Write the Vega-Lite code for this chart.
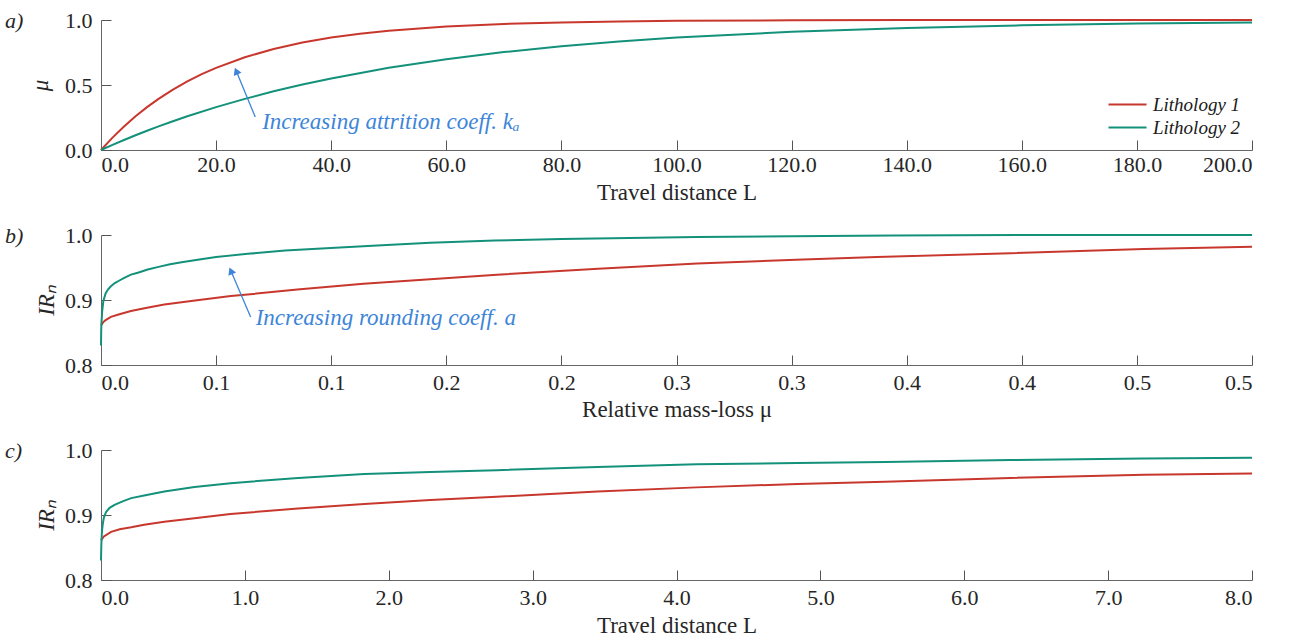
{
  "$schema": "https://vega.github.io/schema/vega-lite/v6.json",
  "background": "white",
  "padding": {"left": 5, "top": 9, "right": 5, "bottom": 2},
  "bounds": "flush",
  "spacing": 85,
  "config": {
    "view": {"stroke": null},
    "axis": {
      "grid": false,
      "domainColor": "#666666",
      "tickColor": "#555555",
      "tickSize": -10,
      "labelFont": "Liberation Serif, serif",
      "labelFontSize": 22,
      "labelColor": "#262626",
      "labelPadding": 14,
      "titleFont": "Liberation Serif, serif",
      "titleFontSize": 23,
      "titleFontWeight": "normal",
      "titleColor": "#262626",
      "titlePadding": 6
    },
    "axisY": {"labelPadding": 19},
    "title": {"font": "Liberation Serif, serif", "fontSize": 22, "fontStyle": "italic", "fontWeight": "normal", "color": "#262626", "anchor": "start", "frame": "group", "dx": -96, "offset": -24},
    "line": {"strokeWidth": 2}
  },
  "resolve": {"legend": {"color": "independent"}},
  "datasets": {
    "a": [
      {"x": 0, "y": 0, "s": "Lithology 1"},
      {"x": 2, "y": 0.0952, "s": "Lithology 1"},
      {"x": 4, "y": 0.1813, "s": "Lithology 1"},
      {"x": 6, "y": 0.2592, "s": "Lithology 1"},
      {"x": 8, "y": 0.3297, "s": "Lithology 1"},
      {"x": 10, "y": 0.3935, "s": "Lithology 1"},
      {"x": 12.5, "y": 0.4647, "s": "Lithology 1"},
      {"x": 15, "y": 0.5276, "s": "Lithology 1"},
      {"x": 17.5, "y": 0.5831, "s": "Lithology 1"},
      {"x": 20, "y": 0.6321, "s": "Lithology 1"},
      {"x": 25, "y": 0.7135, "s": "Lithology 1"},
      {"x": 30, "y": 0.7769, "s": "Lithology 1"},
      {"x": 35, "y": 0.8262, "s": "Lithology 1"},
      {"x": 40, "y": 0.8647, "s": "Lithology 1"},
      {"x": 45, "y": 0.8946, "s": "Lithology 1"},
      {"x": 50, "y": 0.9179, "s": "Lithology 1"},
      {"x": 60, "y": 0.9502, "s": "Lithology 1"},
      {"x": 70, "y": 0.9698, "s": "Lithology 1"},
      {"x": 80, "y": 0.9817, "s": "Lithology 1"},
      {"x": 90, "y": 0.9889, "s": "Lithology 1"},
      {"x": 100, "y": 0.9933, "s": "Lithology 1"},
      {"x": 120, "y": 0.9975, "s": "Lithology 1"},
      {"x": 140, "y": 0.9991, "s": "Lithology 1"},
      {"x": 160, "y": 0.9997, "s": "Lithology 1"},
      {"x": 180, "y": 0.9999, "s": "Lithology 1"},
      {"x": 200, "y": 1.0, "s": "Lithology 1"},
      {"x": 0, "y": 0, "s": "Lithology 2"},
      {"x": 2, "y": 0.0392, "s": "Lithology 2"},
      {"x": 4, "y": 0.0769, "s": "Lithology 2"},
      {"x": 6, "y": 0.1131, "s": "Lithology 2"},
      {"x": 8, "y": 0.1479, "s": "Lithology 2"},
      {"x": 10, "y": 0.1813, "s": "Lithology 2"},
      {"x": 12.5, "y": 0.2212, "s": "Lithology 2"},
      {"x": 15, "y": 0.2592, "s": "Lithology 2"},
      {"x": 20, "y": 0.3297, "s": "Lithology 2"},
      {"x": 25, "y": 0.3935, "s": "Lithology 2"},
      {"x": 30, "y": 0.4512, "s": "Lithology 2"},
      {"x": 35, "y": 0.5034, "s": "Lithology 2"},
      {"x": 40, "y": 0.5507, "s": "Lithology 2"},
      {"x": 50, "y": 0.6321, "s": "Lithology 2"},
      {"x": 60, "y": 0.6988, "s": "Lithology 2"},
      {"x": 70, "y": 0.7534, "s": "Lithology 2"},
      {"x": 80, "y": 0.7981, "s": "Lithology 2"},
      {"x": 90, "y": 0.8347, "s": "Lithology 2"},
      {"x": 100, "y": 0.8647, "s": "Lithology 2"},
      {"x": 120, "y": 0.9093, "s": "Lithology 2"},
      {"x": 140, "y": 0.9392, "s": "Lithology 2"},
      {"x": 160, "y": 0.9592, "s": "Lithology 2"},
      {"x": 180, "y": 0.9727, "s": "Lithology 2"},
      {"x": 200, "y": 0.9817, "s": "Lithology 2"}
    ],
    "b": [
      {"x": 0, "y": 0.861, "s": "Lithology 1"},
      {"x": 0.001, "y": 0.866, "s": "Lithology 1"},
      {"x": 0.002, "y": 0.869, "s": "Lithology 1"},
      {"x": 0.0043, "y": 0.874, "s": "Lithology 1"},
      {"x": 0.008, "y": 0.878, "s": "Lithology 1"},
      {"x": 0.013, "y": 0.883, "s": "Lithology 1"},
      {"x": 0.02, "y": 0.888, "s": "Lithology 1"},
      {"x": 0.0275, "y": 0.893, "s": "Lithology 1"},
      {"x": 0.04, "y": 0.899, "s": "Lithology 1"},
      {"x": 0.0564, "y": 0.906, "s": "Lithology 1"},
      {"x": 0.0853, "y": 0.916, "s": "Lithology 1"},
      {"x": 0.114, "y": 0.925, "s": "Lithology 1"},
      {"x": 0.143, "y": 0.932, "s": "Lithology 1"},
      {"x": 0.172, "y": 0.939, "s": "Lithology 1"},
      {"x": 0.216, "y": 0.948, "s": "Lithology 1"},
      {"x": 0.259, "y": 0.956, "s": "Lithology 1"},
      {"x": 0.302, "y": 0.962, "s": "Lithology 1"},
      {"x": 0.337, "y": 0.966, "s": "Lithology 1"},
      {"x": 0.395, "y": 0.972, "s": "Lithology 1"},
      {"x": 0.453, "y": 0.9786, "s": "Lithology 1"},
      {"x": 0.5, "y": 0.982, "s": "Lithology 1"},
      {"x": 0, "y": 0.83, "s": "Lithology 2"},
      {"x": 0.0001, "y": 0.855, "s": "Lithology 2"},
      {"x": 0.0002, "y": 0.864, "s": "Lithology 2"},
      {"x": 0.0005, "y": 0.882, "s": "Lithology 2"},
      {"x": 0.001, "y": 0.898, "s": "Lithology 2"},
      {"x": 0.002, "y": 0.91, "s": "Lithology 2"},
      {"x": 0.003, "y": 0.916, "s": "Lithology 2"},
      {"x": 0.0043, "y": 0.921, "s": "Lithology 2"},
      {"x": 0.006, "y": 0.926, "s": "Lithology 2"},
      {"x": 0.008, "y": 0.93, "s": "Lithology 2"},
      {"x": 0.0101, "y": 0.934, "s": "Lithology 2"},
      {"x": 0.013, "y": 0.939, "s": "Lithology 2"},
      {"x": 0.016, "y": 0.942, "s": "Lithology 2"},
      {"x": 0.0203, "y": 0.947, "s": "Lithology 2"},
      {"x": 0.025, "y": 0.951, "s": "Lithology 2"},
      {"x": 0.03, "y": 0.955, "s": "Lithology 2"},
      {"x": 0.035, "y": 0.958, "s": "Lithology 2"},
      {"x": 0.042, "y": 0.962, "s": "Lithology 2"},
      {"x": 0.05, "y": 0.966, "s": "Lithology 2"},
      {"x": 0.0637, "y": 0.971, "s": "Lithology 2"},
      {"x": 0.08, "y": 0.976, "s": "Lithology 2"},
      {"x": 0.0998, "y": 0.98, "s": "Lithology 2"},
      {"x": 0.12, "y": 0.984, "s": "Lithology 2"},
      {"x": 0.143, "y": 0.988, "s": "Lithology 2"},
      {"x": 0.171, "y": 0.9915, "s": "Lithology 2"},
      {"x": 0.2, "y": 0.994, "s": "Lithology 2"},
      {"x": 0.259, "y": 0.997, "s": "Lithology 2"},
      {"x": 0.3, "y": 0.998, "s": "Lithology 2"},
      {"x": 0.344, "y": 0.9994, "s": "Lithology 2"},
      {"x": 0.42, "y": 1.0, "s": "Lithology 2"},
      {"x": 0.5, "y": 1.0, "s": "Lithology 2"}
    ],
    "c": [
      {"x": 0, "y": 0.861, "s": "Lithology 1"},
      {"x": 0.02, "y": 0.867, "s": "Lithology 1"},
      {"x": 0.07, "y": 0.874, "s": "Lithology 1"},
      {"x": 0.13, "y": 0.878, "s": "Lithology 1"},
      {"x": 0.21, "y": 0.881, "s": "Lithology 1"},
      {"x": 0.3, "y": 0.885, "s": "Lithology 1"},
      {"x": 0.44, "y": 0.8896, "s": "Lithology 1"},
      {"x": 0.65, "y": 0.895, "s": "Lithology 1"},
      {"x": 0.9, "y": 0.9016, "s": "Lithology 1"},
      {"x": 1.37, "y": 0.91, "s": "Lithology 1"},
      {"x": 1.83, "y": 0.917, "s": "Lithology 1"},
      {"x": 2.29, "y": 0.923, "s": "Lithology 1"},
      {"x": 2.75, "y": 0.928, "s": "Lithology 1"},
      {"x": 3.45, "y": 0.936, "s": "Lithology 1"},
      {"x": 4.14, "y": 0.9425, "s": "Lithology 1"},
      {"x": 4.84, "y": 0.9477, "s": "Lithology 1"},
      {"x": 5.45, "y": 0.951, "s": "Lithology 1"},
      {"x": 6.32, "y": 0.957, "s": "Lithology 1"},
      {"x": 7.25, "y": 0.962, "s": "Lithology 1"},
      {"x": 8.0, "y": 0.964, "s": "Lithology 1"},
      {"x": 0, "y": 0.83, "s": "Lithology 2"},
      {"x": 0.002, "y": 0.852, "s": "Lithology 2"},
      {"x": 0.005, "y": 0.868, "s": "Lithology 2"},
      {"x": 0.008, "y": 0.878, "s": "Lithology 2"},
      {"x": 0.013, "y": 0.887, "s": "Lithology 2"},
      {"x": 0.02, "y": 0.896, "s": "Lithology 2"},
      {"x": 0.036, "y": 0.905, "s": "Lithology 2"},
      {"x": 0.06, "y": 0.911, "s": "Lithology 2"},
      {"x": 0.094, "y": 0.9156, "s": "Lithology 2"},
      {"x": 0.15, "y": 0.921, "s": "Lithology 2"},
      {"x": 0.21, "y": 0.926, "s": "Lithology 2"},
      {"x": 0.3, "y": 0.93, "s": "Lithology 2"},
      {"x": 0.44, "y": 0.936, "s": "Lithology 2"},
      {"x": 0.65, "y": 0.943, "s": "Lithology 2"},
      {"x": 0.9, "y": 0.949, "s": "Lithology 2"},
      {"x": 1.37, "y": 0.957, "s": "Lithology 2"},
      {"x": 1.83, "y": 0.963, "s": "Lithology 2"},
      {"x": 2.29, "y": 0.966, "s": "Lithology 2"},
      {"x": 2.75, "y": 0.969, "s": "Lithology 2"},
      {"x": 3.45, "y": 0.974, "s": "Lithology 2"},
      {"x": 4.14, "y": 0.978, "s": "Lithology 2"},
      {"x": 4.84, "y": 0.98, "s": "Lithology 2"},
      {"x": 5.45, "y": 0.9815, "s": "Lithology 2"},
      {"x": 6.32, "y": 0.9845, "s": "Lithology 2"},
      {"x": 7.25, "y": 0.987, "s": "Lithology 2"},
      {"x": 8.0, "y": 0.988, "s": "Lithology 2"}
    ]
  },
  "vconcat": [
    {
      "width": 1151,
      "height": 130,
      "title": {"text": "a)"},
      "layer": [
        {
          "data": {"name": "a"},
          "mark": {"type": "line", "strokeWidth": 2},
          "encoding": {
            "x": {"field": "x", "type": "quantitative", "scale": {"domain": [0, 200], "nice": false},
                  "axis": {"title": "Travel distance L", "values": [0, 20, 40, 60, 80, 100, 120, 140, 160, 180, 200], "format": ".1f"}},
            "y": {"field": "y", "type": "quantitative", "scale": {"domain": [0, 1], "nice": false},
                  "axis": {"title": "μ", "titleFontStyle": "italic", "values": [0, 0.5, 1], "format": ".1f", "titlePadding": 12}},
            "color": {"field": "s", "type": "nominal",
                      "scale": {"domain": ["Lithology 1", "Lithology 2"], "range": ["#c8372d", "#13917a"]},
                      "legend": {"title": null, "orient": "none", "legendX": 1016, "legendY": 74, "symbolType": "M-2,0H2", "symbolStrokeWidth": 2, "symbolSize": 361, "symbolFillColor": "transparent", "labelFont": "Liberation Serif, serif", "labelFontStyle": "italic", "labelFontSize": 19, "labelColor": "#1a1a1a", "labelOffset": 15, "rowPadding": 2}}
          }
        },
        {
          "data": {"values": [{"x": 26.8, "y": 0.254, "x2": 23.5, "y2": 0.608}]},
          "mark": {"type": "rule", "color": "#3d85d8", "strokeWidth": 1.3},
          "encoding": {
            "x": {"field": "x", "type": "quantitative"},
            "y": {"field": "y", "type": "quantitative"},
            "x2": {"field": "x2"},
            "y2": {"field": "y2"}
          }
        },
        {
          "data": {"values": [{"x": 23.5, "y": 0.608}]},
          "mark": {"type": "point", "shape": "triangle-up", "filled": true, "opacity": 1, "color": "#3d85d8", "size": 70, "angle": 337},
          "encoding": {
            "x": {"field": "x", "type": "quantitative"},
            "y": {"field": "y", "type": "quantitative"}
          }
        },
        {
          "data": {"values": [{"x": 28.0, "y": 0.218, "t": "Increasing attrition coeff. kₐ"}]},
          "mark": {"type": "text", "align": "left", "baseline": "middle", "font": "Liberation Serif, serif", "fontStyle": "italic", "fontSize": 23, "color": "#3d85d8"},
          "encoding": {
            "x": {"field": "x", "type": "quantitative"},
            "y": {"field": "y", "type": "quantitative"},
            "text": {"field": "t"}
          }
        }
      ]
    },
    {
      "width": 1151,
      "height": 130,
      "title": {"text": "b)"},
      "layer": [
        {
          "data": {"name": "b"},
          "mark": {"type": "line", "strokeWidth": 2},
          "encoding": {
            "x": {"field": "x", "type": "quantitative", "scale": {"domain": [0, 0.5], "nice": false},
                  "axis": {"title": "Relative mass-loss μ", "labelPadding": 17, "titlePadding": 5, "values": [0, 0.05, 0.1, 0.15, 0.2, 0.25, 0.3, 0.35, 0.4, 0.45, 0.5],
                           "labelExpr": "['0.0','0.1','0.1','0.2','0.2','0.3','0.3','0.4','0.4','0.5','0.5'][round(datum.value*20)]"}},
            "y": {"field": "y", "type": "quantitative", "scale": {"domain": [0.8, 1], "nice": false},
                  "axis": {"title": "IRₙ", "titleFontStyle": "italic", "values": [0.8, 0.9, 1], "format": ".1f"}},
            "color": {"field": "s", "type": "nominal", "scale": {"domain": ["Lithology 1", "Lithology 2"], "range": ["#c8372d", "#13917a"]}, "legend": null}
          }
        },
        {
          "data": {"values": [{"x": 0.065, "y": 0.874, "x2": 0.0564, "y2": 0.945}]},
          "mark": {"type": "rule", "color": "#3d85d8", "strokeWidth": 1.3},
          "encoding": {
            "x": {"field": "x", "type": "quantitative"},
            "y": {"field": "y", "type": "quantitative"},
            "x2": {"field": "x2"},
            "y2": {"field": "y2"}
          }
        },
        {
          "data": {"values": [{"x": 0.0564, "y": 0.945}]},
          "mark": {"type": "point", "shape": "triangle-up", "filled": true, "opacity": 1, "color": "#3d85d8", "size": 70, "angle": 337},
          "encoding": {
            "x": {"field": "x", "type": "quantitative"},
            "y": {"field": "y", "type": "quantitative"}
          }
        },
        {
          "data": {"values": [{"x": 0.0672, "y": 0.872, "t": "Increasing rounding coeff. a"}]},
          "mark": {"type": "text", "align": "left", "baseline": "middle", "font": "Liberation Serif, serif", "fontStyle": "italic", "fontSize": 23, "color": "#3d85d8"},
          "encoding": {
            "x": {"field": "x", "type": "quantitative"},
            "y": {"field": "y", "type": "quantitative"},
            "text": {"field": "t"}
          }
        }
      ]
    },
    {
      "width": 1151,
      "height": 130,
      "title": {"text": "c)"},
      "data": {"name": "c"},
      "mark": {"type": "line", "strokeWidth": 2},
      "encoding": {
        "x": {"field": "x", "type": "quantitative", "scale": {"domain": [0, 8], "nice": false},
              "axis": {"title": "Travel distance L", "labelPadding": 17, "titlePadding": 6, "values": [0, 1, 2, 3, 4, 5, 6, 7, 8], "format": ".1f"}},
        "y": {"field": "y", "type": "quantitative", "scale": {"domain": [0.8, 1], "nice": false},
              "axis": {"title": "IRₙ", "titleFontStyle": "italic", "values": [0.8, 0.9, 1], "format": ".1f"}},
        "color": {"field": "s", "type": "nominal", "scale": {"domain": ["Lithology 1", "Lithology 2"], "range": ["#c8372d", "#13917a"]}, "legend": null}
      }
    }
  ]
}
